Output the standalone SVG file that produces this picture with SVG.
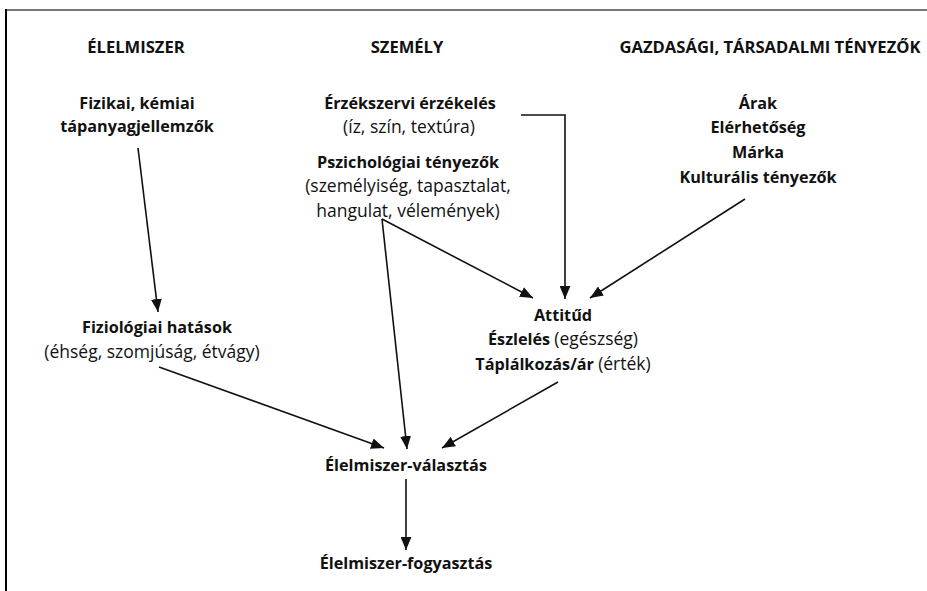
<svg xmlns="http://www.w3.org/2000/svg" width="927" height="591" viewBox="0 0 927 591">
<defs>
<style>
text{font-family:"Open Sans","Noto Sans","Liberation Sans",sans-serif;fill:#111;text-anchor:middle}
.b{font-weight:bold;font-size:16.2px}
.n{font-weight:normal;font-size:17.5px}
.h{font-weight:bold;font-size:16.6px}
.c{stroke:#111;stroke-width:1.6;fill:none}
</style>
<marker id="ah" viewBox="0 0 12 10" refX="12" refY="5" markerWidth="13" markerHeight="11" markerUnits="userSpaceOnUse" orient="auto">
<path d="M0,0 L12,5 L0,10 z" fill="#111"/>
</marker>
</defs>
<rect width="927" height="591" fill="#fff"/>
<line x1="6" y1="10" x2="927" y2="10" stroke="#777" stroke-width="2"/>
<line x1="6" y1="9" x2="6" y2="591" stroke="#000" stroke-width="2"/>
<g id="h-elelmiszer"><text class="h" x="136" y="53">ÉLELMISZER</text></g>
<g id="h-szemely"><text class="h" x="407" y="53">SZEMÉLY</text></g>
<g id="h-gazdasagi"><text class="h" x="770" y="53">GAZDASÁGI, TÁRSADALMI TÉNYEZŐK</text></g>
<g id="n-fizikai"><text class="b" x="137" y="109">Fizikai, kémiai</text><text class="b" x="137" y="132">tápanyagjellemzők</text></g>
<g id="n-erzekszervi"><text class="b" x="410" y="109">Érzékszervi érzékelés</text><text class="n" x="409" y="133">(íz, szín, textúra)</text></g>
<g id="n-pszichologiai"><text class="b" x="408" y="168">Pszichológiai tényezők</text><text class="n" x="408" y="192">(személyiség, tapasztalat,</text><text class="n" x="408" y="217">hangulat, vélemények)</text></g>
<g id="n-arak"><text class="b" x="758" y="109">Árak</text><text class="b" x="758" y="133">Elérhetőség</text><text class="b" x="758" y="158">Márka</text><text class="b" x="758" y="183">Kulturális tényezők</text></g>
<g id="n-fiziologiai"><text class="b" x="157" y="333">Fiziológiai hatások</text><text class="n" x="152" y="358">(éhség, szomjúság, étvágy)</text></g>
<g id="n-attitud"><text class="b" x="563" y="321">Attitűd</text><text x="563" y="345"><tspan class="b">Észlelés</tspan> <tspan class="n">(egészség)</tspan></text><text x="563" y="370"><tspan class="b">Táplálkozás/ár</tspan> <tspan class="n">(érték)</tspan></text></g>
<g id="n-valasztas"><text class="b" x="406" y="471">Élelmiszer-választás</text></g>
<g id="n-fogyasztas"><text class="b" x="406" y="569">Élelmiszer-fogyasztás</text></g>
<g id="connectors">
<line class="c" x1="138" y1="148" x2="158" y2="312" marker-end="url(#ah)"/>
<polyline class="c" points="521,115 565,115 565,299" marker-end="url(#ah)"/>
<line class="c" x1="745" y1="199" x2="590" y2="298" marker-end="url(#ah)"/>
<line class="c" x1="382" y1="219" x2="533" y2="298" marker-end="url(#ah)"/>
<line class="c" x1="382" y1="219" x2="407" y2="449" marker-end="url(#ah)"/>
<line class="c" x1="159" y1="367" x2="384" y2="448" marker-end="url(#ah)"/>
<line class="c" x1="558" y1="382" x2="442" y2="448" marker-end="url(#ah)"/>
<line class="c" x1="406" y1="479" x2="406" y2="550" marker-end="url(#ah)"/>
</g>
</svg>
